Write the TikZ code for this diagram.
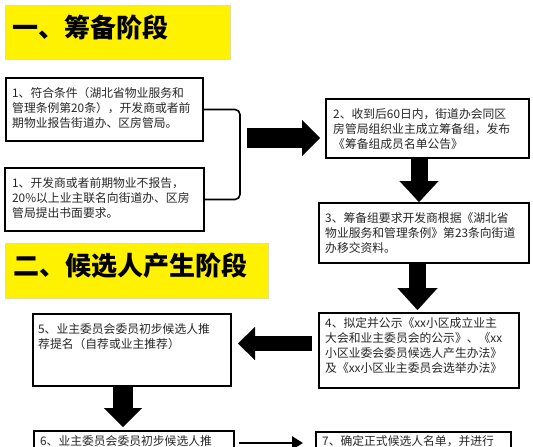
\documentclass[tikz,border=0pt]{standalone}
\usepackage{fontspec}
\setmainfont{Noto Sans CJK SC}
\usetikzlibrary{arrows.meta, positioning, calc}

\tikzset{
  stagebar/.style={draw=yellow!70!black!45, fill=yellow, line width=0.8pt, inner sep=0pt, anchor=north west},
  stagetext/.style={inner sep=0pt, anchor=west, font=\fontsize{26}{30}\selectfont\bfseries},
  stepbox/.style={draw=black, line width=2pt, fill=white, inner sep=0pt, anchor=north west},
  steptext/.style={inner sep=0pt, anchor=north west, align=left, text=black!85, font=\fontsize{11.8}{15}\selectfont},
  bigarrow/.style args={#1/#2/#3}{line width=#1, -{Triangle[width=#2, length=#3, line width=0.01pt]}}
}

\begin{document}
\begin{tikzpicture}[x=1pt, y=-1pt]
        \useasboundingbox (0,0) rectangle (533,447);
        \fill[white] (0,0) rectangle (533,447);
        \clip (0,0) rectangle (533,447);

        % Stage 1
        \node[stagebar, minimum width=225pt, minimum height=54pt] (stage1) at (5,5) {};
        \node[stagetext] (stage1t) at (12,27) {一、筹备阶段};

        \node[stepbox, minimum width=197pt, minimum height=63pt] (b1) at (5,77) {};
        \node[steptext] (b1t) at ([shift={(7pt,-10pt)}]b1.north west) {1、符合条件（湖北省物业服务和\\管理条例第20条），开发商或者前\\期物业报告街道办、区房管局。};

        \node[stepbox, minimum width=199pt, minimum height=63pt] (b1b) at (4,167) {};
        \node[steptext] (b1bt) at ([shift={(8pt,-10pt)}]b1b.north west) {1、开发商或者前期物业不报告，\\20\%以上业主联名向街道办、区房\\管局提出书面要求。};

        \node[stepbox, minimum width=203pt, minimum height=59pt] (b2) at (325,98) {};
        \node[steptext] (b2t) at ([shift={(8pt,-10pt)}]b2.north west) {2、收到后60日内，街道办会同区\\房管局组织业主成立筹备组，发布\\《筹备组成员名单公告》};

        \node[stepbox, minimum width=210pt, minimum height=60pt] (b3) at (318,202) {};
        \node[steptext] (b3t) at ([shift={(7pt,-10pt)}]b3.north west) {3、筹备组要求开发商根据《湖北省\\物业服务和管理条例》第23条向街道\\办移交资料。};

        % Stage 2
        \node[stagebar, minimum width=263pt, minimum height=55pt] (stage2) at (5,243) {};
        \node[stagetext] (stage2t) at (13,266) {二、候选人产生阶段};

        \node[stepbox, minimum width=200pt, minimum height=75pt] (b4) at (318,312) {};
        \node[steptext] (b4t) at ([shift={(7pt,-5pt)}]b4.north west) {4、拟定并公示《xx小区成立业主\\大会和业主委员会的公示》、《xx\\小区业委会委员候选人产生办法》\\及《xx小区业主委员会选举办法》};

        \node[stepbox, minimum width=198pt, minimum height=72pt] (b5) at (32,313) {};
        \node[steptext] (b5t) at ([shift={(6pt,-10pt)}]b5.north west) {5、业主委员会委员初步候选人推\\荐提名（自荐或业主推荐）};

        \node[stepbox, minimum width=200pt, minimum height=70pt] (b6) at (33,430) {};
        \node[steptext] (b6t) at ([shift={(7pt,-5pt)}]b6.north west) {6、业主委员会委员初步候选人推};

        \node[stepbox, minimum width=195pt, minimum height=70pt] (b7) at (315,431) {};
        \node[steptext] (b7t) at ([shift={(7pt,-4pt)}]b7.north west) {7、确定正式候选人名单，并进行};

        % Connectors
        \coordinate (brk) at (240,138);
        \draw[line width=1.6pt, rounded corners=5pt] (b1.east) -| (brk) |- (b1b.east);
        \draw[bigarrow=20pt/36pt/18pt, shorten >=5pt] ([xshift=7pt]brk) -- (brk -| b2.west);
        \draw[bigarrow=17pt/39pt/21pt] ([xshift=-8.5pt]b2.south) -- ([xshift=-5pt]b3.north);
        \draw[bigarrow=17pt/40pt/22pt, shorten >=2pt] ([xshift=-6.5pt]b3.south) -- ([xshift=-1.5pt]b4.north);
        \draw[bigarrow=15pt/33pt/17pt] ([xshift=-6pt,yshift=7pt]b4.west) -- ([xshift=6pt,yshift=6.5pt]b5.east);
        \draw[bigarrow=20pt/38pt/19pt, shorten >=3pt] ([xshift=-9pt]b5.south) -- ([xshift=-11pt]b6.north);
        \draw[line width=2.5pt, -{Triangle[width=13pt, length=11pt]}] ([xshift=4pt,yshift=-13pt]b6.north east) -- ([xshift=-12pt,yshift=-12pt]b7.north west);
    \end{tikzpicture}
\end{document}
